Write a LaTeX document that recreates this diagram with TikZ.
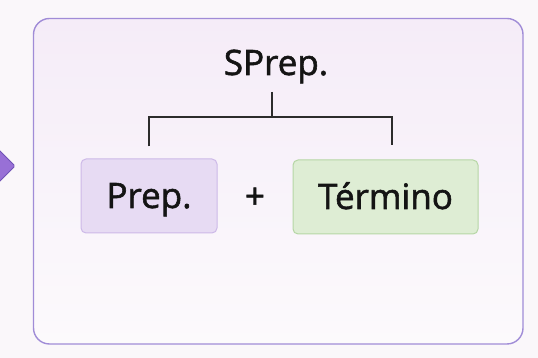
\documentclass[tikz,border=0pt]{standalone}
\usepackage{fontspec}
\setmainfont{Open Sans}[FakeBold=1.6,AutoFakeBold=1.6]
\usepackage{tikz}
\usetikzlibrary{calc,positioning,shapes}
\definecolor{pagebg}{RGB}{250,247,250}
\definecolor{framecol}{RGB}{160,140,215}
\definecolor{frametop}{RGB}{245,236,248}
\definecolor{framebot}{RGB}{252,250,252}
\definecolor{prepfill}{RGB}{231,219,243}
\definecolor{prepline}{RGB}{205,185,232}
\definecolor{termfill}{RGB}{222,237,212}
\definecolor{termline}{RGB}{182,214,165}
\definecolor{tipfill}{RGB}{152,112,214}
\definecolor{tipline}{RGB}{112,82,182}
\definecolor{inkcol}{RGB}{20,20,20}
\tikzset{%
	frame/.style    = {draw=framecol, line width=1.4pt, rounded corners=16pt, top color=frametop, bottom color=framebot},
	word/.style     = {text=inkcol, font=\fontsize{35}{40}\selectfont\bfseries, inner sep=0pt},
	prepbox/.style  = {word, draw=prepline, fill=prepfill, line width=1pt, rounded corners=5pt, minimum width=136pt, minimum height=74pt, text height=30pt, text depth=6pt, text centered},
	termbox/.style  = {word, draw=termline, fill=termfill, line width=1pt, rounded corners=5pt, minimum width=185pt, minimum height=74pt, text height=30pt, text depth=6pt, text centered},
	bracket/.style  = {draw=inkcol!90, line width=2.2pt},
}
\begin{document}
\begin{tikzpicture}[x=1pt,y=1pt]
	\fill[pagebg] (0,0) rectangle (538,358);
	\useasboundingbox (0,0) rectangle (538,358);
	\filldraw[fill=tipfill, draw=tipline, line width=0.8pt, rounded corners=1.5pt] (-4,211) -- (15,192) -- (-4,173);  % incoming arrow tip
	\path[frame] (33.5,339.5) rectangle (523,14);
	\node[word, anchor=base] (root) at (276,283) {SPrep.};
	\node[prepbox] (prep) at (149,162) {Prep.};
	\node[word] (plus) at (255,160) {+};
	\node[termbox] (termino) at (385.5,161) {Término};
	\coordinate (stem) at (272,266);
	\coordinate (fork) at (272,241);
	\draw[bracket] (stem) -- (fork);
	\draw[bracket] ([yshift=12pt]prep.north) |- (fork) -| ([shift={(6.5pt,14pt)}]termino.north);
\end{tikzpicture}
\end{document}
